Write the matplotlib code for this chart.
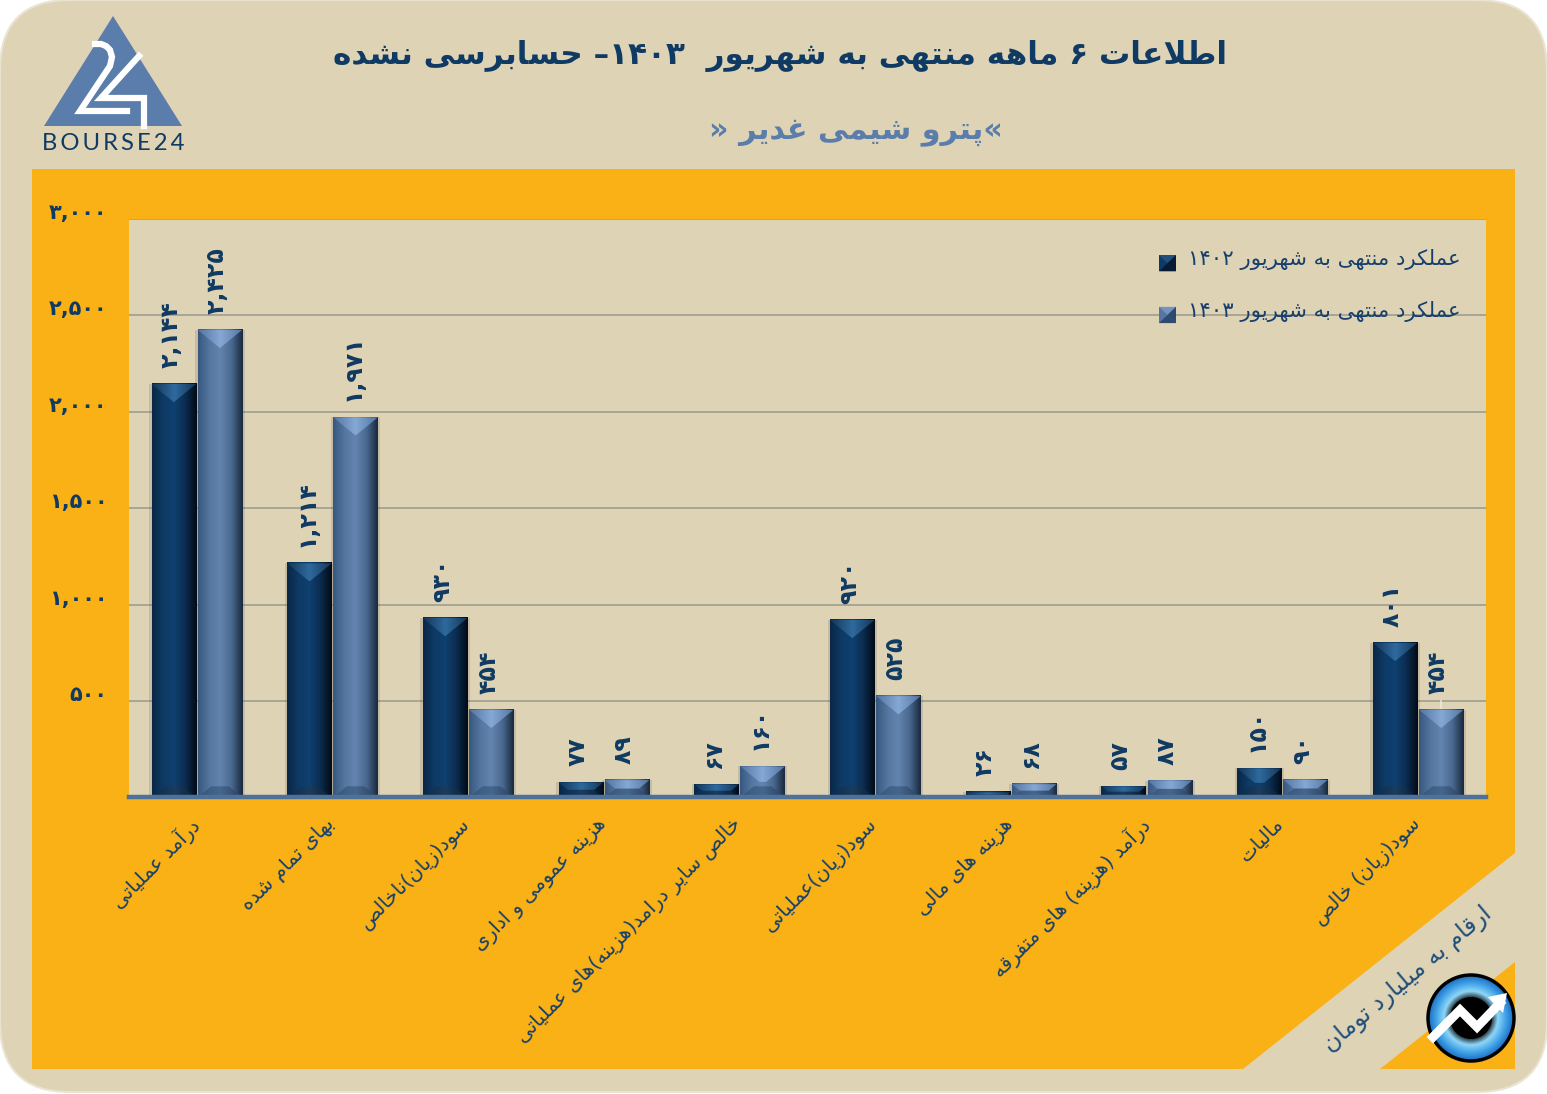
import re

import matplotlib
matplotlib.use("Agg")
import matplotlib.pyplot as plt
import numpy as np
from matplotlib.colors import LinearSegmentedColormap
from matplotlib.legend_handler import HandlerBase
from matplotlib.patches import Circle, FancyBboxPatch, Polygon, Rectangle
from matplotlib.transforms import ScaledTranslation

W, H = 1547, 1094

# data
categories = [
    "درآمد عملیاتی",
    "بهای تمام شده",
    "سود(زیان)ناخالص",
    "هزینه عمومی و اداری",
    "خالص سایر درامد(هزینه)های عملیاتی",
    "سود(زیان)عملیاتی",
    "هزینه های مالی",
    "درآمد (هزینه) های متفرقه",
    "مالیات",
    "سود(زیان) خالص",
]
values_1402 = [2144, 1214, 930, 77, 67, 920, 26, 57, 150, 801]
values_1403 = [2425, 1971, 454, 89, 160, 525, 68, 87, 90, 454]
y_ticks = [500, 1000, 1500, 2000, 2500, 3000]
series_names = ["عملکرد منتهی به شهریور ۱۴۰۲", "عملکرد منتهی به شهریور ۱۴۰۳"]
title = "اطلاعات ۶ ماهه منتهی به شهریور  ۱۴۰۳– حسابرسی نشده"
subtitle = "«پترو شیمی غدیر »"
unit_note = "ارقام به میلیارد تومان"

NAVY = "#0f3a63"
STEEL = "#5a7dab"
SAND = "#dfd3b6"
ORANGE = "#f9b116"

# matplotlib has no arabic shaping, so pick presentation forms by hand
# order: isolated, final, initial, medial
FORMS = {}
for ch, start in zip("بتثجحخسشصضطظعغفقلمنه",
                     [0xFE8F, 0xFE95, 0xFE99, 0xFE9D, 0xFEA1, 0xFEA5, 0xFEB1, 0xFEB5, 0xFEB9, 0xFEBD,
                      0xFEC1, 0xFEC5, 0xFEC9, 0xFECD, 0xFED1, 0xFED5, 0xFEDD, 0xFEE1, 0xFEE5, 0xFEE9]):
    FORMS[ch] = [chr(start + i) for i in range(4)]
for ch, start in zip("پچکگی", [0xFB56, 0xFB7A, 0xFB8E, 0xFB92, 0xFBFC]):
    FORMS[ch] = [chr(start + i) for i in range(4)]
for ch, start in zip("ادذرزوآژ", [0xFE8D, 0xFEA9, 0xFEAB, 0xFEAD, 0xFEAF, 0xFEED, 0xFE81, 0xFB8A]):
    FORMS[ch] = [chr(start), chr(start + 1)]


def fa(text):
    out = []
    chars = list(text)
    i = 0
    while i < len(chars):
        c = chars[i]
        if c not in FORMS:
            out.append(c)
            i += 1
            continue
        prev = chars[i - 1] if i > 0 else ""
        joins_prev = prev in FORMS and len(FORMS[prev]) == 4
        nxt = chars[i + 1] if i + 1 < len(chars) else ""
        if c == "ل" and nxt == "ا":
            out.append("\uFEFC" if joins_prev else "\uFEFB")
            i += 2
            continue
        joins_next = len(FORMS[c]) == 4 and nxt in FORMS
        if joins_prev and joins_next:
            out.append(FORMS[c][3])
        elif joins_next:
            out.append(FORMS[c][2])
        elif joins_prev:
            out.append(FORMS[c][1])
        else:
            out.append(FORMS[c][0])
        i += 1
    vis = "".join(reversed(out)).translate(str.maketrans("()", ")("))
    return re.sub(r"[۰-۹,]+", lambda m: m.group(0)[::-1], vis)


def fa_num(v):
    return f"{v:,}".translate(str.maketrans("0123456789", "۰۱۲۳۴۵۶۷۸۹"))


plt.rcParams["font.family"] = ["DejaVu Sans"]
fig = plt.figure(figsize=(W / 100, H / 100), dpi=100, facecolor="white")

# page decoration, pixel coordinates
bg = fig.add_axes([0, 0, 1, 1])
bg.set_xlim(0, W)
bg.set_ylim(H, 0)
bg.axis("off")
bg.add_patch(FancyBboxPatch((70, 70), W - 140, H - 142, boxstyle="round,pad=70,rounding_size=70",
                            fc=SAND, ec="#e9e3d2", lw=1.5))
bg.add_patch(Rectangle((32, 169), 1483, 900, fc=ORANGE, ec="none"))
bg.add_patch(Polygon([(1515, 853), (1243, 1069), (1380, 1069), (1515, 962)], fc=SAND, ec="none"))

# bourse24 logo
bg.add_patch(Polygon([(113, 16), (182, 126), (44, 126)], fc=STEEL, ec="none"))
bg.plot([95, 101, 106, 110, 112, 110, 80, 127], [44, 44, 46, 50, 57, 66, 111, 111], color="white", lw=4.5,
        solid_joinstyle="miter")
bg.plot([139, 101, 144, 144], [56, 98, 98, 126], color="white", lw=4.5, solid_joinstyle="miter")
bg.text(113, 144, "\u200a\u200a".join("BOURSE24"), family=["Lato", "DejaVu Sans"], fontsize=17.2, color=NAVY,
        ha="center", va="center")

# title block
bg.text(780, 56, fa(title), fontsize=22.4, fontweight="bold", color=NAVY, ha="center", va="center")
bg.text(856, 132, fa(subtitle), fontsize=21.8, fontweight="bold", color=STEEL, ha="center", va="center")
bg.text(1408, 979, fa(unit_note), fontsize=17, color="#1f4e79", ha="center", va="center",
        rotation=40, rotation_mode="anchor")

# round badge
yy, xx = np.mgrid[-1:1:200j, -1:1:200j]
rr = np.hypot(xx, yy)
badge_cmap = LinearSegmentedColormap.from_list("badge", ["#000000", "#8fd6f7", "#3e9fe6", "#1565b8"])
badge = bg.imshow(rr.clip(0.42, 1), cmap=badge_cmap, extent=(1427, 1515, 1062, 974), vmin=0.42, vmax=1,
                  aspect="auto", zorder=3)
badge.set_clip_path(Circle((1471, 1018), 43, transform=bg.transData))
bg.add_patch(Circle((1471, 1018), 21, fc="black", ec="none", zorder=3.5))
bg.add_patch(Circle((1471, 1018), 43, fc="none", ec="black", lw=2.5, zorder=4))
bg.plot([1433, 1460, 1477, 1500], [1037, 1010, 1027, 1003], color="white", lw=6.5,
        solid_joinstyle="miter", zorder=4)
bg.add_patch(Polygon([(1488, 997), (1507, 993), (1503, 1013)], fc="white", ec="none", zorder=4))
bg.set_xlim(0, W)
bg.set_ylim(H, 0)

# chart
x0, x1, y_top, y_zero = 129, 1486, 219, 797.3
ax = fig.add_axes([x0 / W, (H - y_zero) / H, (x1 - x0) / W, (y_zero - y_top) / H], facecolor=SAND)
ax.set_zorder(2)
x = np.arange(len(categories))
PX_X = len(categories) / (x1 - x0)
PX_Y = 3000 / (y_zero - y_top)

cm_side = {
    0: LinearSegmentedColormap.from_list("s0", ["#0a2745", "#0e3a66", "#0f4070", "#0b2c4f", "#020b16"]),
    1: LinearSegmentedColormap.from_list("s1", ["#38587e", "#54769f", "#6384ae", "#4a6990", "#1a2a3f"]),
}
cm_top = {
    0: LinearSegmentedColormap.from_list("t0", ["#143658", "#2f6a9e", "#143658"]),
    1: LinearSegmentedColormap.from_list("t1", ["#5376a3", "#86a8d4", "#5376a3"]),
}
cm_bottom = {
    0: LinearSegmentedColormap.from_list("b0", ["#0b2a4b", "#1c3c5e", "#081e36"]),
    1: LinearSegmentedColormap.from_list("b1", ["#37557a", "#46678d", "#2a4060"]),
}
ramp = np.linspace(0, 1, 64).reshape(1, -1)


def dress_bar(rect, idx):
    bx, bw, bh = rect.get_x(), rect.get_width(), rect.get_height()
    ax.imshow(ramp, cmap=cm_side[idx], extent=(bx, bx + bw, 0, bh), aspect="auto", zorder=2.1)
    d = min(18 * PX_Y, bh / 2)
    inset = min(bw / 2, d / PX_Y * 1.22 * PX_X)
    top = [(bx, bh), (bx + bw, bh), (bx + bw - inset, bh - d), (bx + inset, bh - d)]
    im = ax.imshow(ramp, cmap=cm_top[idx], extent=(bx, bx + bw, bh - d, bh), aspect="auto", zorder=2.2)
    im.set_clip_path(Polygon(top, transform=ax.transData))
    # bottom bevel is flatter and fainter
    d = min(11 * PX_Y, bh / 2)
    inset = d / PX_Y * 1.22 * PX_X
    low = [(bx, 0), (bx + bw, 0), (bx + bw - inset, d), (bx + inset, d)]
    im = ax.imshow(ramp, cmap=cm_bottom[idx], extent=(bx, bx + bw, 0, d), aspect="auto", zorder=2.2)
    im.set_clip_path(Polygon(low, transform=ax.transData))


off, bar_w = 0.17, 0.328
for idx, (vals, shift) in enumerate(((values_1402, -off), (values_1403, off))):
    # soft shadow around the bar
    ax.bar(x + shift, vals, bar_w + 5 * PX_X, color="#4a4a40", alpha=0.16, lw=0, zorder=1.9)
    bars = ax.bar(x + shift, vals, bar_w, color=["#0e3a66", "#54769f"][idx], lw=0, zorder=2)
    for rect, v in zip(bars, vals):
        dress_bar(rect, idx)
        ax.annotate(fa_num(v), (rect.get_x() + bar_w / 2, v), xytext=(-2.2, 11.5), textcoords="offset points",
                    rotation=90, ha="center", va="bottom", fontsize=17, fontweight="bold", color=NAVY, zorder=5)

# pale leader line on the last label
ax.plot([x[-1] + off] * 2, [values_1403[-1], y_ticks[0]], color="#efe8d5", lw=1.2, zorder=1.95)

ax.set_xlim(-0.5, len(categories) - 0.5)
ax.set_ylim(0, 3000)
ax.set_yticks(y_ticks)
ax.set_yticklabels([fa_num(v) for v in y_ticks], fontsize=15, fontweight="bold", color=NAVY, va="baseline")
ax.set_xticks(x)
ax.set_xticklabels([fa(c) for c in categories], rotation=45, ha="right", va="top", rotation_mode="anchor",
                   fontsize=14.3, color="#16406b")
ax.tick_params(axis="both", length=0)
ax.tick_params(axis="y", pad=15.5)
ax.tick_params(axis="x", pad=12)
# tick_params resets label transforms, so nudge after it
shift_left = ScaledTranslation(-8 / 100, 0, fig.dpi_scale_trans)
for lab in ax.get_xticklabels():
    lab.set_transform(lab.get_transform() + shift_left)
ax.grid(axis="y", color="#a09e8f", lw=1.2, zorder=1)
ax.set_axisbelow(True)
for name in ("top", "left", "right"):
    ax.spines[name].set_visible(False)
ax.spines["bottom"].set_color("#4e7199")
ax.spines["bottom"].set_linewidth(3.2)
ax.spines["bottom"].set_zorder(6)


class BevelHandler(HandlerBase):
    def __init__(self, idx):
        super().__init__()
        self.idx = idx

    def create_artists(self, legend, orig, xd, yd, w, h, fontsize, trans):
        base, light, dark = [("#0e3a66", "#234f7c", "#061c33"), ("#54769f", "#7394bf", "#2d4a70")][self.idx]
        # the swatches sit a little below the text line
        a, b = -xd, -yd - 4
        c = (a + w / 2, b + h / 2)
        return [
            Rectangle((a, b), w, h, fc=base, ec="none", transform=trans),
            Polygon([(a, b + h), (a + w, b + h), c], fc=light, ec="none", transform=trans),
            Polygon([(a + w, b), (a + w, b + h), c], fc=dark, ec="none", transform=trans),
            Polygon([(a, b), (a + w, b), c], fc=dark, ec="none", transform=trans),
        ]


handles = [Rectangle((0, 0), 1, 1), Rectangle((0, 0), 1, 1)]
ax.legend(handles, [fa(n) for n in series_names], handler_map={handles[0]: BevelHandler(0), handles[1]: BevelHandler(1)},
          loc="upper left", bbox_to_anchor=((1142 - x0) / (x1 - x0), 1 - (232 - y_top) / (y_zero - y_top)),
          frameon=False, fontsize=15.3, labelcolor="#16406b", handlelength=0.8, handleheight=0.8,
          handletextpad=0.55, labelspacing=1.45, borderpad=0.3)

fig.savefig("out.png", dpi=100, facecolor=fig.get_facecolor())
